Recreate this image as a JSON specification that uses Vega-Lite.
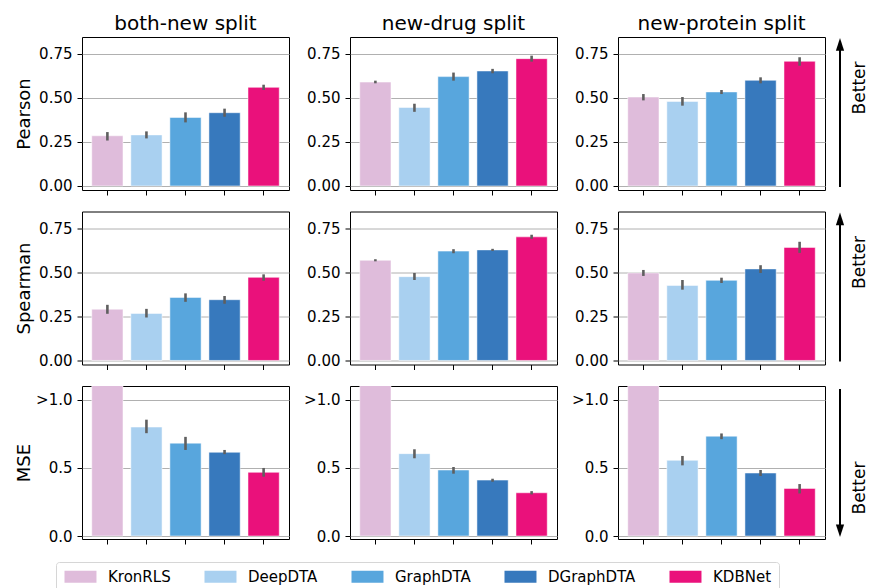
{
  "$schema": "https://vega.github.io/schema/vega-lite/v6.json",
  "padding": {"left": 14, "top": 13, "right": 0, "bottom": 0},
  "datasets": {
    "d": [
      {"metric": "Pearson", "split": "both-new", "model": "KronRLS", "value": 0.285, "lo": 0.258, "hi": 0.306},
      {"metric": "Pearson", "split": "both-new", "model": "DeepDTA", "value": 0.29, "lo": 0.27, "hi": 0.31},
      {"metric": "Pearson", "split": "both-new", "model": "GraphDTA", "value": 0.389, "lo": 0.361, "hi": 0.418},
      {"metric": "Pearson", "split": "both-new", "model": "DGraphDTA", "value": 0.416, "lo": 0.393, "hi": 0.439},
      {"metric": "Pearson", "split": "both-new", "model": "KDBNet", "value": 0.56, "lo": 0.545, "hi": 0.575},
      {"metric": "Pearson", "split": "new-drug", "model": "KronRLS", "value": 0.59, "lo": 0.583, "hi": 0.598},
      {"metric": "Pearson", "split": "new-drug", "model": "DeepDTA", "value": 0.446, "lo": 0.421, "hi": 0.467},
      {"metric": "Pearson", "split": "new-drug", "model": "GraphDTA", "value": 0.621, "lo": 0.598, "hi": 0.644},
      {"metric": "Pearson", "split": "new-drug", "model": "DGraphDTA", "value": 0.653, "lo": 0.64, "hi": 0.665},
      {"metric": "Pearson", "split": "new-drug", "model": "KDBNet", "value": 0.723, "lo": 0.706, "hi": 0.74},
      {"metric": "Pearson", "split": "new-protein", "model": "KronRLS", "value": 0.505, "lo": 0.486, "hi": 0.522},
      {"metric": "Pearson", "split": "new-protein", "model": "DeepDTA", "value": 0.48, "lo": 0.456, "hi": 0.505},
      {"metric": "Pearson", "split": "new-protein", "model": "GraphDTA", "value": 0.534, "lo": 0.522, "hi": 0.545},
      {"metric": "Pearson", "split": "new-protein", "model": "DGraphDTA", "value": 0.6, "lo": 0.583, "hi": 0.617},
      {"metric": "Pearson", "split": "new-protein", "model": "KDBNet", "value": 0.708, "lo": 0.683, "hi": 0.731},
      {"metric": "Spearman", "split": "both-new", "model": "KronRLS", "value": 0.291, "lo": 0.265, "hi": 0.316},
      {"metric": "Spearman", "split": "both-new", "model": "DeepDTA", "value": 0.267, "lo": 0.244, "hi": 0.293},
      {"metric": "Spearman", "split": "both-new", "model": "GraphDTA", "value": 0.358, "lo": 0.333, "hi": 0.381},
      {"metric": "Spearman", "split": "both-new", "model": "DGraphDTA", "value": 0.345, "lo": 0.322, "hi": 0.366},
      {"metric": "Spearman", "split": "both-new", "model": "KDBNet", "value": 0.472, "lo": 0.453, "hi": 0.489},
      {"metric": "Spearman", "split": "new-drug", "model": "KronRLS", "value": 0.569, "lo": 0.563, "hi": 0.575},
      {"metric": "Spearman", "split": "new-drug", "model": "DeepDTA", "value": 0.476, "lo": 0.457, "hi": 0.497},
      {"metric": "Spearman", "split": "new-drug", "model": "GraphDTA", "value": 0.621, "lo": 0.609, "hi": 0.632},
      {"metric": "Spearman", "split": "new-drug", "model": "DGraphDTA", "value": 0.628, "lo": 0.622, "hi": 0.634},
      {"metric": "Spearman", "split": "new-drug", "model": "KDBNet", "value": 0.702, "lo": 0.691, "hi": 0.714},
      {"metric": "Spearman", "split": "new-protein", "model": "KronRLS", "value": 0.497, "lo": 0.48, "hi": 0.514},
      {"metric": "Spearman", "split": "new-protein", "model": "DeepDTA", "value": 0.426, "lo": 0.402, "hi": 0.457},
      {"metric": "Spearman", "split": "new-protein", "model": "GraphDTA", "value": 0.455, "lo": 0.44, "hi": 0.47},
      {"metric": "Spearman", "split": "new-protein", "model": "DGraphDTA", "value": 0.52, "lo": 0.497, "hi": 0.541},
      {"metric": "Spearman", "split": "new-protein", "model": "KDBNet", "value": 0.642, "lo": 0.611, "hi": 0.674},
      {"metric": "MSE", "split": "both-new", "model": "KronRLS", "value": 1.2, "lo": null, "hi": null},
      {"metric": "MSE", "split": "both-new", "model": "DeepDTA", "value": 0.799, "lo": 0.754, "hi": 0.853},
      {"metric": "MSE", "split": "both-new", "model": "GraphDTA", "value": 0.681, "lo": 0.631, "hi": 0.727},
      {"metric": "MSE", "split": "both-new", "model": "DGraphDTA", "value": 0.614, "lo": 0.6, "hi": 0.631},
      {"metric": "MSE", "split": "both-new", "model": "KDBNet", "value": 0.467, "lo": 0.435, "hi": 0.499},
      {"metric": "MSE", "split": "new-drug", "model": "KronRLS", "value": 1.2, "lo": null, "hi": null},
      {"metric": "MSE", "split": "new-drug", "model": "DeepDTA", "value": 0.604, "lo": 0.57, "hi": 0.636},
      {"metric": "MSE", "split": "new-drug", "model": "GraphDTA", "value": 0.484, "lo": 0.457, "hi": 0.506},
      {"metric": "MSE", "split": "new-drug", "model": "DGraphDTA", "value": 0.41, "lo": 0.398, "hi": 0.42},
      {"metric": "MSE", "split": "new-drug", "model": "KDBNet", "value": 0.317, "lo": 0.305, "hi": 0.329},
      {"metric": "MSE", "split": "new-protein", "model": "KronRLS", "value": 1.2, "lo": null, "hi": null},
      {"metric": "MSE", "split": "new-protein", "model": "DeepDTA", "value": 0.555, "lo": 0.518, "hi": 0.587},
      {"metric": "MSE", "split": "new-protein", "model": "GraphDTA", "value": 0.732, "lo": 0.71, "hi": 0.752},
      {"metric": "MSE", "split": "new-protein", "model": "DGraphDTA", "value": 0.462, "lo": 0.44, "hi": 0.484},
      {"metric": "MSE", "split": "new-protein", "model": "KDBNet", "value": 0.349, "lo": 0.312, "hi": 0.381}
    ],
    "note": [{"text": "Better"}]
  },
  "columns": 3,
  "bounds": "flush",
  "spacing": {"row": 21.5, "column": 61},
  "concat": [
    {
      "width": 207, "height": 153, "title": "both-new split",
      "data": {"name": "d"},
      "transform": [{"filter": "datum.metric == 'Pearson' && datum.split == 'both-new'"}],
      "encoding": {"x": {"field": "model", "type": "nominal", "sort": ["KronRLS","DeepDTA","GraphDTA","DGraphDTA","KDBNet"], "scale": {"paddingInner": 0.2, "paddingOuter": 0.25}, "axis": {"labels": false, "title": null, "domain": false, "grid": false}}},
      "layer": [
        {"mark": {"type": "bar", "clip": true, "stroke": "white", "strokeWidth": 1, "strokeOpacity": 0.5},
         "encoding": {"y": {"field": "value", "type": "quantitative", "scale": {"domain": [-0.023, 0.846], "nice": false, "zero": false}, "axis": {"values": [0, 0.25, 0.5, 0.75], "format": ".2f", "title": "Pearson", "grid": true}},
          "color": {"field": "model", "type": "nominal", "scale": {"domain": ["KronRLS","DeepDTA","GraphDTA","DGraphDTA","KDBNet"], "range": ["#dfbcdb","#a9d0f0","#58a6dd","#3779bd","#ea117b"]}, "legend": {"orient": "none", "legendX": -26, "legendY": 525, "direction": "horizontal", "columns": 5, "title": null}}}},
        {"mark": {"type": "rule", "color": "#5f5f5f", "strokeWidth": 2.6},
         "encoding": {"y": {"field": "lo", "type": "quantitative"}, "y2": {"field": "hi"}}}
      ]
    },
    {
      "width": 207, "height": 153, "title": "new-drug split",
      "data": {"name": "d"},
      "transform": [{"filter": "datum.metric == 'Pearson' && datum.split == 'new-drug'"}],
      "encoding": {"x": {"field": "model", "type": "nominal", "sort": ["KronRLS","DeepDTA","GraphDTA","DGraphDTA","KDBNet"], "scale": {"paddingInner": 0.2, "paddingOuter": 0.25}, "axis": {"labels": false, "title": null, "domain": false, "grid": false}}},
      "layer": [
        {"mark": {"type": "bar", "clip": true, "stroke": "white", "strokeWidth": 1, "strokeOpacity": 0.5},
         "encoding": {"y": {"field": "value", "type": "quantitative", "scale": {"domain": [-0.023, 0.846], "nice": false, "zero": false}, "axis": {"values": [0, 0.25, 0.5, 0.75], "format": ".2f", "title": null, "grid": true}},
          "color": {"field": "model", "type": "nominal", "scale": {"domain": ["KronRLS","DeepDTA","GraphDTA","DGraphDTA","KDBNet"], "range": ["#dfbcdb","#a9d0f0","#58a6dd","#3779bd","#ea117b"]}, "legend": {"orient": "none", "legendX": -26, "legendY": 525, "direction": "horizontal", "columns": 5, "title": null}}}},
        {"mark": {"type": "rule", "color": "#5f5f5f", "strokeWidth": 2.6},
         "encoding": {"y": {"field": "lo", "type": "quantitative"}, "y2": {"field": "hi"}}}
      ]
    },
    {
      "width": 207, "height": 153, "title": "new-protein split",
      "resolve": {"scale": {"x": "independent", "y": "independent"}, "axis": {"x": "independent", "y": "independent"}},
      "layer": [
        {
          "data": {"name": "d"},
          "transform": [{"filter": "datum.metric == 'Pearson' && datum.split == 'new-protein'"}],
          "encoding": {"x": {"field": "model", "type": "nominal", "sort": ["KronRLS","DeepDTA","GraphDTA","DGraphDTA","KDBNet"], "scale": {"paddingInner": 0.2, "paddingOuter": 0.25}, "axis": {"labels": false, "title": null, "domain": false, "grid": false}}},
          "layer": [
            {"mark": {"type": "bar", "clip": true, "stroke": "white", "strokeWidth": 1, "strokeOpacity": 0.5},
             "encoding": {"y": {"field": "value", "type": "quantitative", "scale": {"domain": [-0.023, 0.846], "nice": false, "zero": false}, "axis": {"values": [0, 0.25, 0.5, 0.75], "format": ".2f", "title": null, "grid": true}},
              "color": {"field": "model", "type": "nominal", "scale": {"domain": ["KronRLS","DeepDTA","GraphDTA","DGraphDTA","KDBNet"], "range": ["#dfbcdb","#a9d0f0","#58a6dd","#3779bd","#ea117b"]}, "legend": {"orient": "none", "legendX": -26, "legendY": 525, "direction": "horizontal", "columns": 5, "title": null}}}},
            {"mark": {"type": "rule", "color": "#5f5f5f", "strokeWidth": 2.6},
             "encoding": {"y": {"field": "lo", "type": "quantitative"}, "y2": {"field": "hi"}}}
          ]
        },
        {
          "data": {"name": "note"},
          "encoding": {"x": {"datum": 222, "type": "quantitative", "scale": {"domain": [0, 207], "nice": false, "zero": false}, "axis": null}},
          "layer": [
            {"mark": {"type": "rule", "color": "black", "strokeWidth": 2},
             "encoding": {"y": {"datum": 0.02, "type": "quantitative", "scale": {"domain": [0, 1], "nice": false}, "axis": null}, "y2": {"datum": 0.952}}},
            {"mark": {"type": "point", "shape": "M0,-1L0.65,1H-0.65Z", "filled": true, "color": "black", "opacity": 1, "size": 160, "strokeWidth": 0},
             "encoding": {"y": {"datum": 0.952, "type": "quantitative"}}},
            {"mark": {"type": "text", "angle": 270, "fontSize": 17, "font": "DejaVu Sans", "color": "black"},
             "encoding": {"x": {"datum": 242, "type": "quantitative"}, "y": {"datum": 0.667, "type": "quantitative"}, "text": {"field": "text"}}}
          ]
        }
      ]
    },
    {
      "width": 207, "height": 153,
      "data": {"name": "d"},
      "transform": [{"filter": "datum.metric == 'Spearman' && datum.split == 'both-new'"}],
      "encoding": {"x": {"field": "model", "type": "nominal", "sort": ["KronRLS","DeepDTA","GraphDTA","DGraphDTA","KDBNet"], "scale": {"paddingInner": 0.2, "paddingOuter": 0.25}, "axis": {"labels": false, "title": null, "domain": false, "grid": false}}},
      "layer": [
        {"mark": {"type": "bar", "clip": true, "stroke": "white", "strokeWidth": 1, "strokeOpacity": 0.5},
         "encoding": {"y": {"field": "value", "type": "quantitative", "scale": {"domain": [-0.023, 0.846], "nice": false, "zero": false}, "axis": {"values": [0, 0.25, 0.5, 0.75], "format": ".2f", "title": "Spearman", "grid": true}},
          "color": {"field": "model", "type": "nominal", "scale": {"domain": ["KronRLS","DeepDTA","GraphDTA","DGraphDTA","KDBNet"], "range": ["#dfbcdb","#a9d0f0","#58a6dd","#3779bd","#ea117b"]}, "legend": {"orient": "none", "legendX": -26, "legendY": 525, "direction": "horizontal", "columns": 5, "title": null}}}},
        {"mark": {"type": "rule", "color": "#5f5f5f", "strokeWidth": 2.6},
         "encoding": {"y": {"field": "lo", "type": "quantitative"}, "y2": {"field": "hi"}}}
      ]
    },
    {
      "width": 207, "height": 153,
      "data": {"name": "d"},
      "transform": [{"filter": "datum.metric == 'Spearman' && datum.split == 'new-drug'"}],
      "encoding": {"x": {"field": "model", "type": "nominal", "sort": ["KronRLS","DeepDTA","GraphDTA","DGraphDTA","KDBNet"], "scale": {"paddingInner": 0.2, "paddingOuter": 0.25}, "axis": {"labels": false, "title": null, "domain": false, "grid": false}}},
      "layer": [
        {"mark": {"type": "bar", "clip": true, "stroke": "white", "strokeWidth": 1, "strokeOpacity": 0.5},
         "encoding": {"y": {"field": "value", "type": "quantitative", "scale": {"domain": [-0.023, 0.846], "nice": false, "zero": false}, "axis": {"values": [0, 0.25, 0.5, 0.75], "format": ".2f", "title": null, "grid": true}},
          "color": {"field": "model", "type": "nominal", "scale": {"domain": ["KronRLS","DeepDTA","GraphDTA","DGraphDTA","KDBNet"], "range": ["#dfbcdb","#a9d0f0","#58a6dd","#3779bd","#ea117b"]}, "legend": {"orient": "none", "legendX": -26, "legendY": 525, "direction": "horizontal", "columns": 5, "title": null}}}},
        {"mark": {"type": "rule", "color": "#5f5f5f", "strokeWidth": 2.6},
         "encoding": {"y": {"field": "lo", "type": "quantitative"}, "y2": {"field": "hi"}}}
      ]
    },
    {
      "width": 207, "height": 153,
      "resolve": {"scale": {"x": "independent", "y": "independent"}, "axis": {"x": "independent", "y": "independent"}},
      "layer": [
        {
          "data": {"name": "d"},
          "transform": [{"filter": "datum.metric == 'Spearman' && datum.split == 'new-protein'"}],
          "encoding": {"x": {"field": "model", "type": "nominal", "sort": ["KronRLS","DeepDTA","GraphDTA","DGraphDTA","KDBNet"], "scale": {"paddingInner": 0.2, "paddingOuter": 0.25}, "axis": {"labels": false, "title": null, "domain": false, "grid": false}}},
          "layer": [
            {"mark": {"type": "bar", "clip": true, "stroke": "white", "strokeWidth": 1, "strokeOpacity": 0.5},
             "encoding": {"y": {"field": "value", "type": "quantitative", "scale": {"domain": [-0.023, 0.846], "nice": false, "zero": false}, "axis": {"values": [0, 0.25, 0.5, 0.75], "format": ".2f", "title": null, "grid": true}},
              "color": {"field": "model", "type": "nominal", "scale": {"domain": ["KronRLS","DeepDTA","GraphDTA","DGraphDTA","KDBNet"], "range": ["#dfbcdb","#a9d0f0","#58a6dd","#3779bd","#ea117b"]}, "legend": {"orient": "none", "legendX": -26, "legendY": 525, "direction": "horizontal", "columns": 5, "title": null}}}},
            {"mark": {"type": "rule", "color": "#5f5f5f", "strokeWidth": 2.6},
             "encoding": {"y": {"field": "lo", "type": "quantitative"}, "y2": {"field": "hi"}}}
          ]
        },
        {
          "data": {"name": "note"},
          "encoding": {"x": {"datum": 222, "type": "quantitative", "scale": {"domain": [0, 207], "nice": false, "zero": false}, "axis": null}},
          "layer": [
            {"mark": {"type": "rule", "color": "black", "strokeWidth": 2},
             "encoding": {"y": {"datum": 0.02, "type": "quantitative", "scale": {"domain": [0, 1], "nice": false}, "axis": null}, "y2": {"datum": 0.952}}},
            {"mark": {"type": "point", "shape": "M0,-1L0.65,1H-0.65Z", "filled": true, "color": "black", "opacity": 1, "size": 160, "strokeWidth": 0},
             "encoding": {"y": {"datum": 0.952, "type": "quantitative"}}},
            {"mark": {"type": "text", "angle": 270, "fontSize": 17, "font": "DejaVu Sans", "color": "black"},
             "encoding": {"x": {"datum": 242, "type": "quantitative"}, "y": {"datum": 0.667, "type": "quantitative"}, "text": {"field": "text"}}}
          ]
        }
      ]
    },
    {
      "width": 207, "height": 153,
      "data": {"name": "d"},
      "transform": [{"filter": "datum.metric == 'MSE' && datum.split == 'both-new'"}],
      "encoding": {"x": {"field": "model", "type": "nominal", "sort": ["KronRLS","DeepDTA","GraphDTA","DGraphDTA","KDBNet"], "scale": {"paddingInner": 0.2, "paddingOuter": 0.25}, "axis": {"labels": false, "title": null, "domain": false, "grid": false}}},
      "layer": [
        {"mark": {"type": "bar", "clip": true, "stroke": "white", "strokeWidth": 1, "strokeOpacity": 0.5},
         "encoding": {"y": {"field": "value", "type": "quantitative", "scale": {"domain": [-0.022, 1.1], "nice": false, "zero": false}, "axis": {"values": [0, 0.5, 1], "labelExpr": "datum.value == 1 ? '>1.0' : format(datum.value, '.1f')", "title": "MSE", "grid": true}},
          "color": {"field": "model", "type": "nominal", "scale": {"domain": ["KronRLS","DeepDTA","GraphDTA","DGraphDTA","KDBNet"], "range": ["#dfbcdb","#a9d0f0","#58a6dd","#3779bd","#ea117b"]}, "legend": {"orient": "none", "legendX": -26, "legendY": 525, "direction": "horizontal", "columns": 5, "title": null}}}},
        {"mark": {"type": "rule", "color": "#5f5f5f", "strokeWidth": 2.6},
         "encoding": {"y": {"field": "lo", "type": "quantitative"}, "y2": {"field": "hi"}}}
      ]
    },
    {
      "width": 207, "height": 153,
      "data": {"name": "d"},
      "transform": [{"filter": "datum.metric == 'MSE' && datum.split == 'new-drug'"}],
      "encoding": {"x": {"field": "model", "type": "nominal", "sort": ["KronRLS","DeepDTA","GraphDTA","DGraphDTA","KDBNet"], "scale": {"paddingInner": 0.2, "paddingOuter": 0.25}, "axis": {"labels": false, "title": null, "domain": false, "grid": false}}},
      "layer": [
        {"mark": {"type": "bar", "clip": true, "stroke": "white", "strokeWidth": 1, "strokeOpacity": 0.5},
         "encoding": {"y": {"field": "value", "type": "quantitative", "scale": {"domain": [-0.022, 1.1], "nice": false, "zero": false}, "axis": {"values": [0, 0.5, 1], "labelExpr": "datum.value == 1 ? '>1.0' : format(datum.value, '.1f')", "title": null, "grid": true}},
          "color": {"field": "model", "type": "nominal", "scale": {"domain": ["KronRLS","DeepDTA","GraphDTA","DGraphDTA","KDBNet"], "range": ["#dfbcdb","#a9d0f0","#58a6dd","#3779bd","#ea117b"]}, "legend": {"orient": "none", "legendX": -26, "legendY": 525, "direction": "horizontal", "columns": 5, "title": null}}}},
        {"mark": {"type": "rule", "color": "#5f5f5f", "strokeWidth": 2.6},
         "encoding": {"y": {"field": "lo", "type": "quantitative"}, "y2": {"field": "hi"}}}
      ]
    },
    {
      "width": 207, "height": 153,
      "resolve": {"scale": {"x": "independent", "y": "independent"}, "axis": {"x": "independent", "y": "independent"}},
      "layer": [
        {
          "data": {"name": "d"},
          "transform": [{"filter": "datum.metric == 'MSE' && datum.split == 'new-protein'"}],
          "encoding": {"x": {"field": "model", "type": "nominal", "sort": ["KronRLS","DeepDTA","GraphDTA","DGraphDTA","KDBNet"], "scale": {"paddingInner": 0.2, "paddingOuter": 0.25}, "axis": {"labels": false, "title": null, "domain": false, "grid": false}}},
          "layer": [
            {"mark": {"type": "bar", "clip": true, "stroke": "white", "strokeWidth": 1, "strokeOpacity": 0.5},
             "encoding": {"y": {"field": "value", "type": "quantitative", "scale": {"domain": [-0.022, 1.1], "nice": false, "zero": false}, "axis": {"values": [0, 0.5, 1], "labelExpr": "datum.value == 1 ? '>1.0' : format(datum.value, '.1f')", "title": null, "grid": true}},
              "color": {"field": "model", "type": "nominal", "scale": {"domain": ["KronRLS","DeepDTA","GraphDTA","DGraphDTA","KDBNet"], "range": ["#dfbcdb","#a9d0f0","#58a6dd","#3779bd","#ea117b"]}, "legend": {"orient": "none", "legendX": -26, "legendY": 525, "direction": "horizontal", "columns": 5, "title": null}}}},
            {"mark": {"type": "rule", "color": "#5f5f5f", "strokeWidth": 2.6},
             "encoding": {"y": {"field": "lo", "type": "quantitative"}, "y2": {"field": "hi"}}}
          ]
        },
        {
          "data": {"name": "note"},
          "encoding": {"x": {"datum": 222, "type": "quantitative", "scale": {"domain": [0, 207], "nice": false, "zero": false}, "axis": null}},
          "layer": [
            {"mark": {"type": "rule", "color": "black", "strokeWidth": 2},
             "encoding": {"y": {"datum": 0.98, "type": "quantitative", "scale": {"domain": [0, 1], "nice": false}, "axis": null}, "y2": {"datum": 0.054}}},
            {"mark": {"type": "point", "shape": "M0,1L0.65,-1H-0.65Z", "filled": true, "color": "black", "opacity": 1, "size": 160, "strokeWidth": 0},
             "encoding": {"y": {"datum": 0.054, "type": "quantitative"}}},
            {"mark": {"type": "text", "angle": 270, "fontSize": 17, "font": "DejaVu Sans", "color": "black"},
             "encoding": {"x": {"datum": 242, "type": "quantitative"}, "y": {"datum": 0.333, "type": "quantitative"}, "text": {"field": "text"}}}
          ]
        }
      ]
    }
  ],
  "config": {
    "font": "DejaVu Sans",
    "view": {"stroke": "black", "strokeWidth": 1},
    "axis": {"labelFont": "DejaVu Sans", "labelFontSize": 15, "labelColor": "black", "tickColor": "black", "tickSize": 5, "tickWidth": 1, "domain": false, "gridColor": "#b0b0b0", "gridWidth": 1, "titleFont": "DejaVu Sans", "titleFontSize": 18, "titleFontWeight": "normal", "titleColor": "black", "titlePadding": 5, "labelPadding": 5},
    "axisY": {"minExtent": 44, "maxExtent": 44},
    "title": {"font": "DejaVu Sans", "fontSize": 20, "fontWeight": "normal", "color": "black", "offset": 3, "anchor": "middle"},
    "legend": {"symbolType": "M-1,-1H4.33V1H-1Z", "symbolSize": 144, "symbolStrokeWidth": 0, "symbolOpacity": 1, "labelFont": "DejaVu Sans", "labelFontSize": 15, "labelColor": "black", "labelOffset": 30, "columnPadding": 32, "padding": 7, "strokeColor": "#d6d6d6", "cornerRadius": 3, "fillColor": "white"}
  }
}
